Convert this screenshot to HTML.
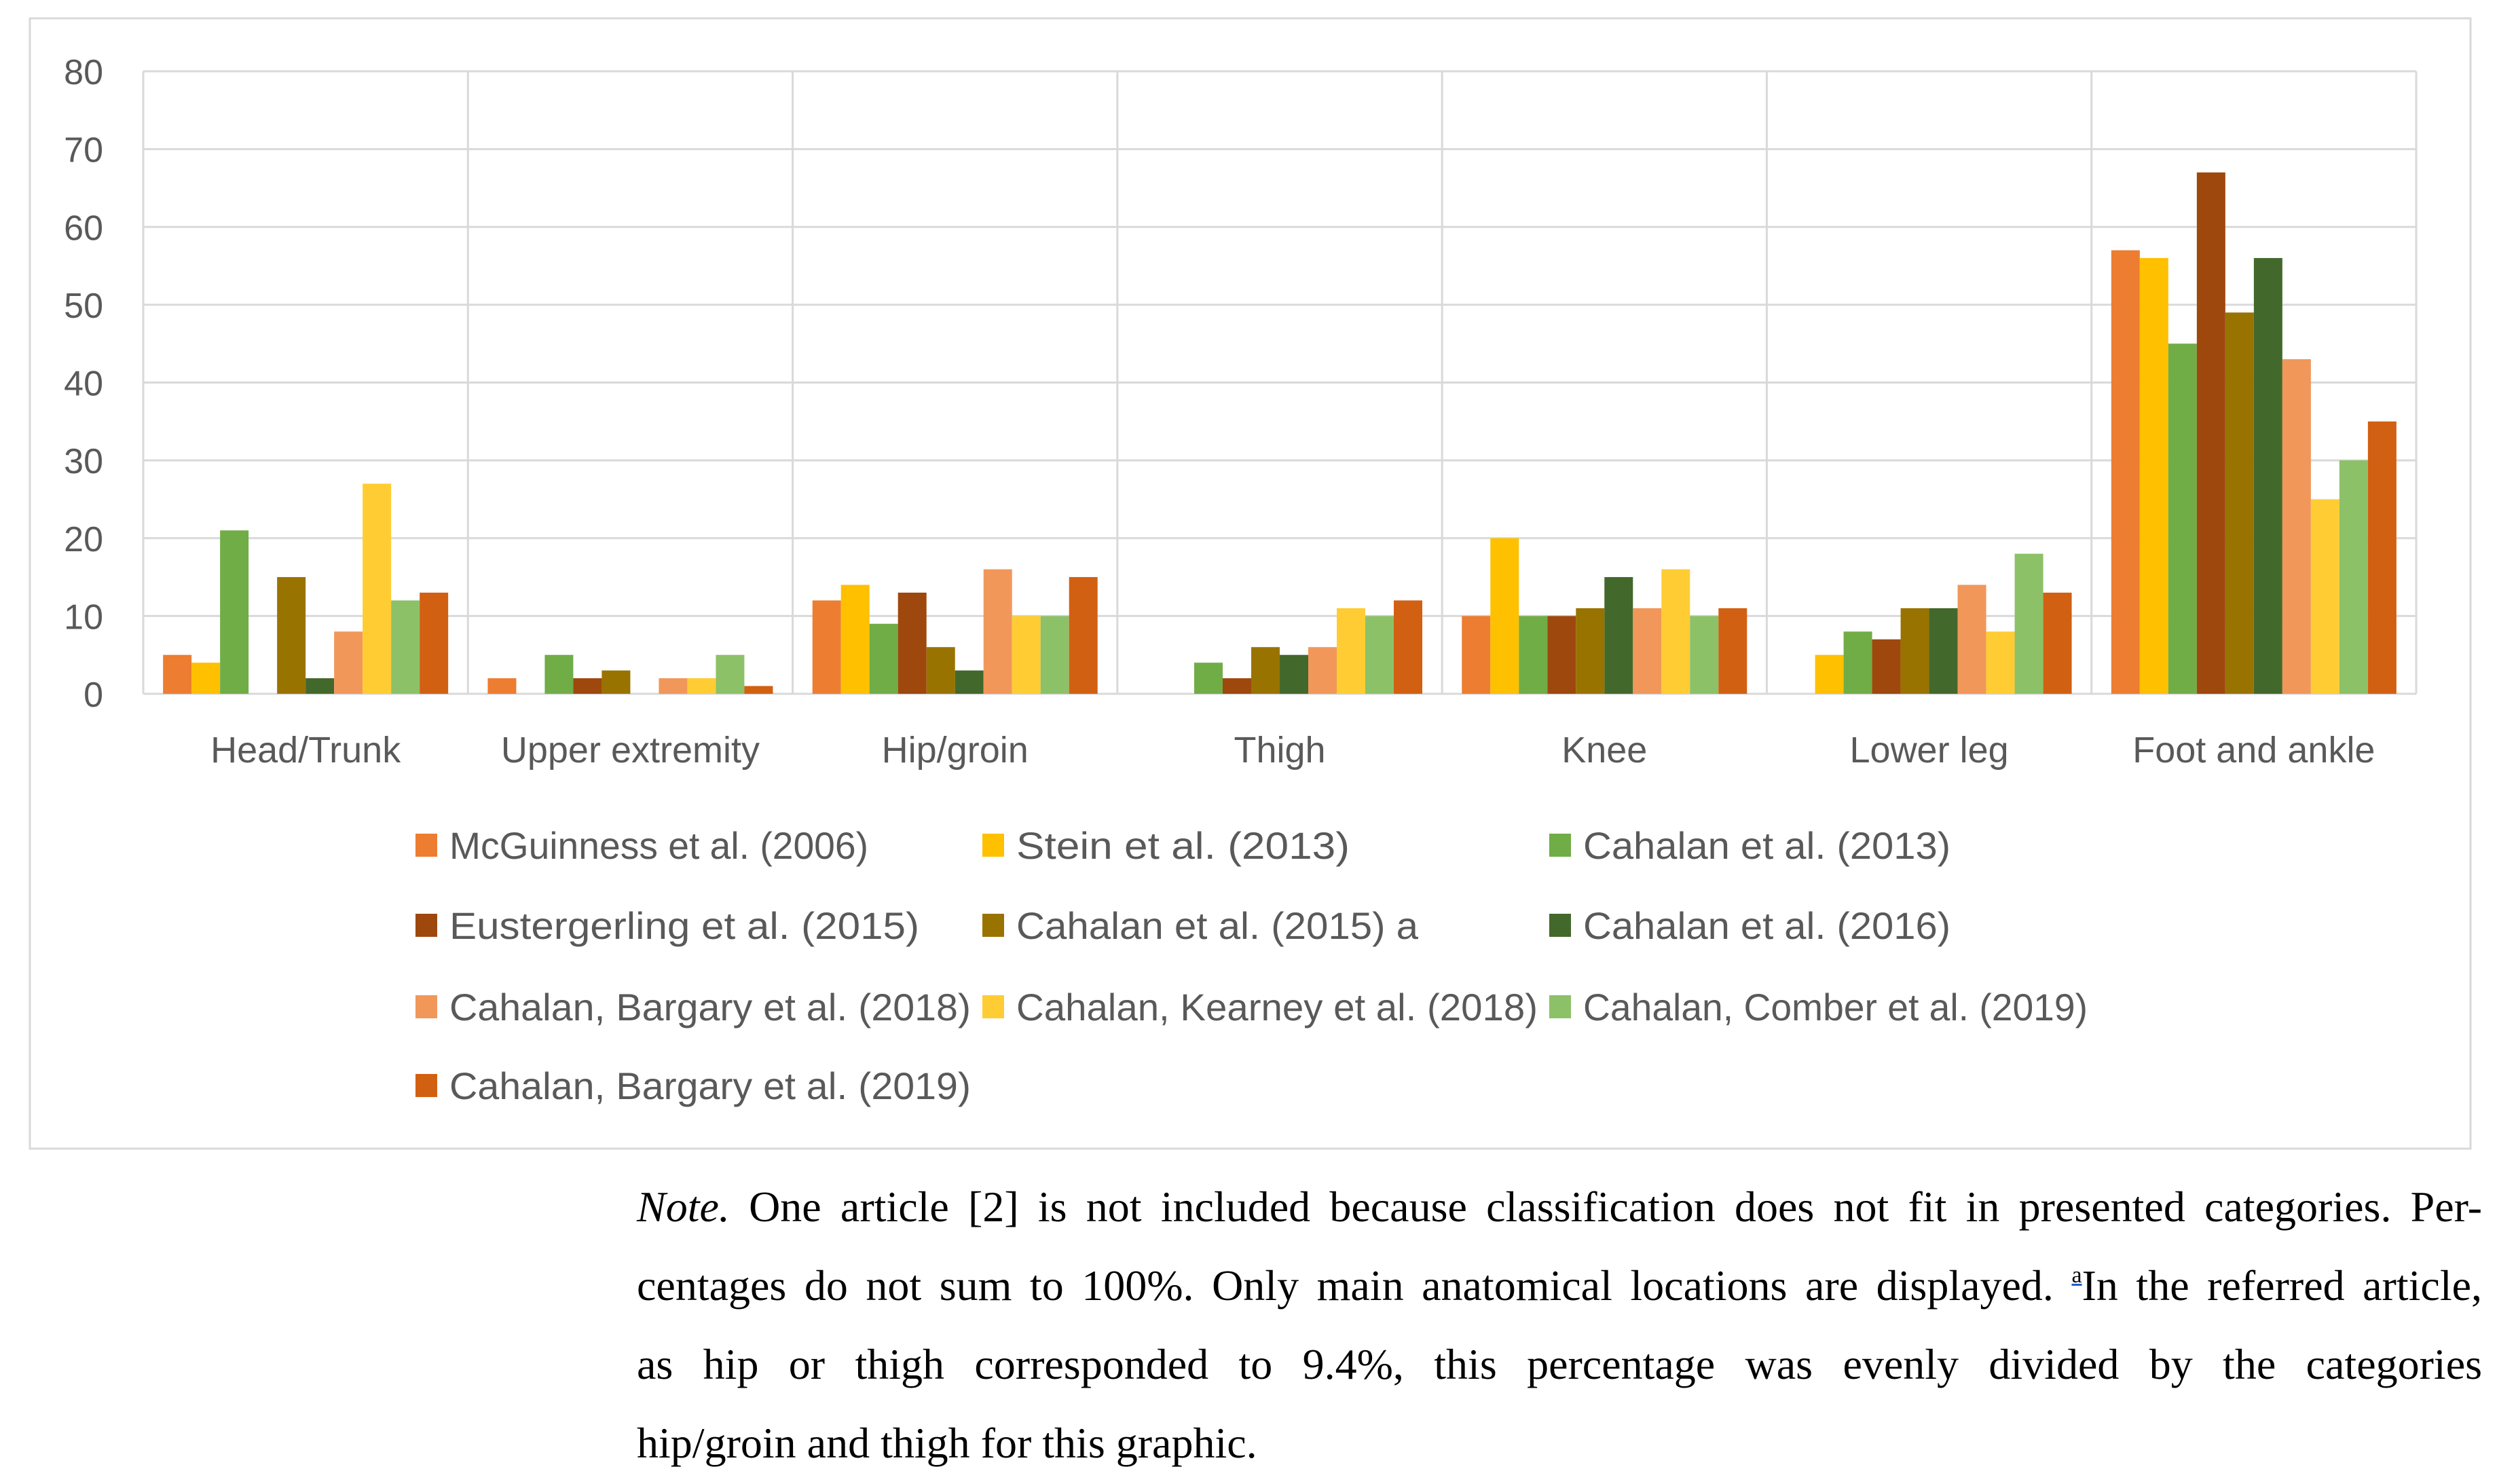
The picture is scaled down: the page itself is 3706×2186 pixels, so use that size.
<!DOCTYPE html>
<html><head><meta charset="utf-8"><style>
html,body{margin:0;padding:0;background:#fff;width:3706px;height:2186px;overflow:hidden}
.note{position:absolute;left:938px;width:2718px;font-family:"Liberation Serif",serif;font-size:64px;color:#000;line-height:116px}
.note div{text-align:justify;text-align-last:justify;height:116px;overflow:visible}
.note div.last{text-align-last:left}
.note sup{font-size:34px;line-height:0;vertical-align:0;position:relative;top:-26px;text-decoration:underline;text-decoration-color:#1a5fd6}
</style></head><body>
<svg id="chart" width="3706" height="1700" style="position:absolute;left:0;top:0" xmlns="http://www.w3.org/2000/svg"></svg>
<div class="note" style="top:1720px">
<div><i>Note.</i> One article [2] is not included because classification does not fit in presented categories. Per-</div>
<div>centages do not sum to 100%. Only main anatomical locations are displayed. <sup>a</sup>In the referred article,</div>
<div>as hip or thigh corresponded to 9.4%, this percentage was evenly divided by the categories</div>
<div class="last">hip/groin and thigh for this graphic.</div>
</div>
<script>
const categories=["Head/Trunk","Upper extremity","Hip/groin","Thigh","Knee","Lower leg","Foot and ankle"];
const seriesNames=["McGuinness et al. (2006)","Stein et al. (2013)","Cahalan et al. (2013)","Eustergerling et al. (2015)","Cahalan et al. (2015) a","Cahalan et al. (2016)","Cahalan, Bargary et al. (2018)","Cahalan, Kearney et al. (2018)","Cahalan, Comber et al. (2019)","Cahalan, Bargary et al. (2019)"];
const s0=[5,2,12,0,10,0,57];
const s1=[4,0,14,0,20,5,56];
const s2=[21,5,9,4,10,8,45];
const s3=[0,2,13,2,10,7,67];
const s4=[15,3,6,6,11,11,49];
const s5=[2,0,3,5,15,11,56];
const s6=[8,2,16,6,11,14,43];
const s7=[27,2,10,11,16,8,25];
const s8=[12,5,10,10,10,18,30];
const s9=[13,1,15,12,11,13,35];
const yTicks=[0,10,20,30,40,50,60,70,80];
const series=[s0,s1,s2,s3,s4,s5,s6,s7,s8,s9];
const colors=["#ED7D31","#FFC000","#70AD47","#9E480E","#997300","#43682B","#F1975A","#FFCD33","#8CC168","#D26012"];
const NS="http://www.w3.org/2000/svg";
const svg=document.getElementById('chart');
function mk(t,a,p){const e=document.createElementNS(NS,t);for(const k in a)e.setAttribute(k,a[k]);(p||svg).appendChild(e);return e;}
const L=211,R=3559,T=105,B=1022,yMax=80;
const cw=(R-L)/categories.length;
const y=v=>B-(v/yMax)*(B-T);
const bw=42;
let box=mk('rect',{x:44,y:27,width:3595,height:1665,fill:'none',stroke:'#d9d9d9','stroke-width':3});


yTicks.forEach(t=>{
  let g=mk('line',{x1:L,x2:R,y1:y(t),y2:y(t),stroke:'#d9d9d9','stroke-width':3});
  
  
  let tx=mk('text',{x:152,y:y(t)+19,'text-anchor':'end','font-family':'Liberation Sans, sans-serif','font-size':52,fill:'#595959'});
  tx.textContent=t;
  
  
});
for(let i=0;i<=categories.length;i++){
  let v=mk('line',{x1:L+i*cw,x2:L+i*cw,y1:T,y2:B,stroke:'#d9d9d9','stroke-width':3});
  
  
}
categories.forEach((c,ci)=>{
  const gx=L+ci*cw+(cw-bw*series.length)/2;
  series.forEach((s,si)=>{
    const val=s[ci];
    let r=mk('rect',{x:gx+si*bw,y:y(val),width:bw,height:B-y(val),fill:colors[si]});
    
    
  });
  let t=mk('text',{x:L+ci*cw+cw/2,y:1123,'text-anchor':'middle','font-family':'Liberation Sans, sans-serif','font-size':54,fill:'#595959'});
  t.textContent=c;
  
  
});
const colX=[612,1447,2282],rowY=[1245,1363,1483,1599];
seriesNames.forEach((n,i)=>{
  const cx=colX[i%3],cy=rowY[Math.floor(i/3)];
  let m=mk('rect',{x:cx,y:cy-17,width:32,height:34,fill:colors[i]});
  
  
  let t=mk('text',{x:cx+50,y:cy+20,'font-family':'Liberation Sans, sans-serif','font-size':56,fill:'#595959'});
  t.textContent=n;
  t.setAttribute('textLength',Math.round(n.length*25.2+12));
  t.setAttribute('lengthAdjust','spacingAndGlyphs');
  
  
});
</script>
</body></html>
